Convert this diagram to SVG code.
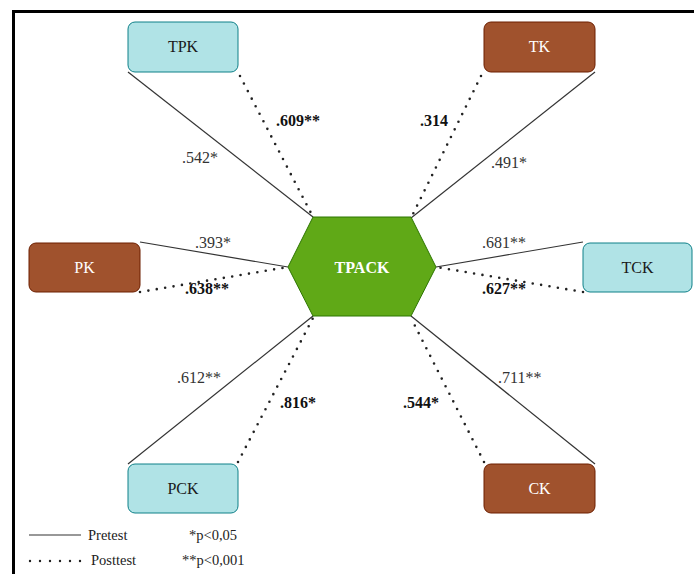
<svg xmlns="http://www.w3.org/2000/svg" width="694" height="574" viewBox="0 0 694 574">
<style>
.bg{fill:#ffffff}
.frame{fill:none;stroke:#000;stroke-width:3}
.cy{fill:#b0e3e6;stroke:#0e8088;stroke-width:1}
.br{fill:#a0522d;stroke:#6d1f00;stroke-width:1}
.hex{fill:#60a917;stroke:#2d7600;stroke-width:1}
.t{font-family:"Liberation Serif","Times New Roman",serif;font-size:16px;text-anchor:middle}
.dk{fill:#1a1a1a}
.wt{fill:#ffffff}
.solid{stroke:#333;stroke-width:1.2;fill:none}
.dot{stroke:#222;stroke-width:2.6;stroke-linecap:round;stroke-dasharray:0 8.5;fill:none}
.lbl{font-family:"Liberation Serif","Times New Roman",serif;font-size:16px;fill:#333}
.b{font-weight:bold;fill:#111}
.leg{font-family:"Liberation Serif","Times New Roman",serif;font-size:14.5px;fill:#222}
</style>
<rect class="bg" x="0" y="0" width="694" height="574"/>
<path class="frame" d="M13.5,574 V11.5 H694"/>
<g id="connectors">
<line class="solid" x1="128" y1="72" x2="313" y2="217"/>
<line class="dot" x1="240" y1="76" x2="313" y2="217"/>
<line class="dot" x1="481" y1="76" x2="411" y2="218"/>
<line class="solid" x1="595" y1="72" x2="411" y2="218"/>
<line class="solid" x1="140" y1="242" x2="288" y2="267"/>
<line class="dot" x1="140" y1="292" x2="288" y2="267"/>
<line class="solid" x1="583" y1="242" x2="436" y2="267"/>
<line class="dot" x1="583" y1="292" x2="436" y2="267"/>
<line class="solid" x1="128" y1="464" x2="313" y2="316"/>
<line class="dot" x1="238" y1="462" x2="313" y2="318"/>
<line class="dot" x1="484" y1="462" x2="411" y2="318"/>
<line class="solid" x1="595" y1="464" x2="411" y2="316"/>
<text class="lbl" x="182" y="163">.542*</text>
<text class="lbl b" x="276" y="126">.609**</text>
<text class="lbl b" x="420" y="126">.314</text>
<text class="lbl" x="491" y="168">.491*</text>
<text class="lbl" x="195" y="248">.393*</text>
<text class="lbl b" x="185" y="294">.638**</text>
<text class="lbl" x="482" y="248">.681**</text>
<text class="lbl b" x="482" y="294">.627**</text>
<text class="lbl" x="177" y="383">.612**</text>
<text class="lbl b" x="280" y="408">.816*</text>
<text class="lbl b" x="403" y="408">.544*</text>
<text class="lbl" x="498" y="383">.711**</text>
</g>
<g id="TPK"><rect class="cy" x="128" y="22" width="110" height="50" rx="7"/><text class="t dk" x="183" y="52">TPK</text></g>
<g id="TK"><rect class="br" x="484" y="22" width="111" height="50" rx="7"/><text class="t wt" x="539.5" y="52">TK</text></g>
<g id="PK"><rect class="br" x="29" y="243" width="111" height="49" rx="7"/><text class="t wt" x="84.5" y="273">PK</text></g>
<g id="TCK"><rect class="cy" x="583" y="243" width="109" height="49" rx="7"/><text class="t dk" x="637.5" y="273">TCK</text></g>
<g id="PCK"><rect class="cy" x="128" y="464" width="110" height="49" rx="7"/><text class="t dk" x="183" y="494">PCK</text></g>
<g id="CK"><rect class="br" x="484" y="464" width="111" height="49" rx="7"/><text class="t wt" x="539.5" y="494">CK</text></g>
<g id="TPACK"><polygon class="hex" points="288,267 313,217 411,217 436,267 411,316 313,316"/><text class="t wt" x="362" y="273" font-weight="bold">TPACK</text></g>
<g id="legend">
<line class="solid" x1="29" y1="535" x2="81" y2="535"/>
<text class="leg" x="88" y="540">Pretest</text>
<text class="leg" x="189" y="540">*p&lt;0,05</text>
<line class="dot" x1="30" y1="561" x2="81" y2="561" style="stroke-dasharray:0 10;stroke-width:2.4"/>
<text class="leg" x="91" y="565">Posttest</text>
<text class="leg" x="182" y="565">**p&lt;0,001</text>
</g>
</svg>
